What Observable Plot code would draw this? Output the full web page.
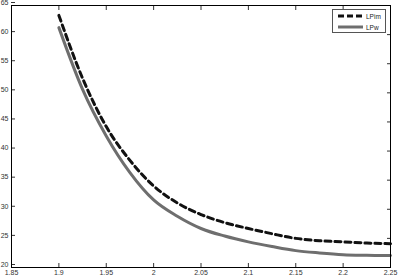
<!DOCTYPE html>
<html>
<head>
<meta charset="utf-8">
<script src="https://cdn.jsdelivr.net/npm/d3@7"></script>
<script src="https://cdn.jsdelivr.net/npm/@observablehq/plot@0.6"></script>
<style>
  html, body { margin: 0; padding: 0; background: #fff; }
  #wrap { position: relative; width: 399px; height: 278px; overflow: hidden; }
  #legend { position: absolute; left: 332px; top: 9px; width: 54px; height: 24px; border: 1px solid #555; background: #fff; font: 6.5px "Liberation Sans", Arial, sans-serif; color: #222; box-sizing: border-box; }
  #legend .row { position: absolute; left: 5px; height: 8px; display: flex; align-items: center; }
  #legend svg { display: block; margin-right: 3px; }
</style>
</head>
<body>
<div id="wrap"></div>
<script>
const xs = [1.9, 1.925, 1.95, 1.975, 2.0, 2.025, 2.05, 2.075, 2.1, 2.125, 2.15, 2.175, 2.2, 2.225, 2.25];
const lpIm = [63.3, 52.5, 44.2, 38.4, 34.0, 31.1, 29.1, 27.7, 26.7, 25.8, 25.0, 24.6, 24.4, 24.2, 24.1];
const lpW  = [61.2, 50.6, 42.6, 36.3, 31.6, 28.8, 26.7, 25.4, 24.4, 23.6, 22.9, 22.5, 22.2, 22.1, 22.05];
const xTicks = [1.85, 1.9, 1.95, 2.0, 2.05, 2.1, 2.15, 2.2, 2.25];
const xTickLabels = ["1.85", "1.9", "1.95", "2", "2.05", "2.1", "2.15", "2.2", "2.25"];
const yTicks = [20, 25, 30, 35, 40, 45, 50, 55, 60, 65];
const seriesNames = ["LPim", "LPw"];

const rows = [];
xs.forEach((x, i) => {
  rows.push({x, y: lpIm[i], s: seriesNames[0]});
  rows.push({x, y: lpW[i], s: seriesNames[1]});
});

const chart = Plot.plot({
  width: 399,
  height: 278,
  marginLeft: 11,
  marginRight: 9,
  marginTop: 5,
  marginBottom: 11,
  style: {fontFamily: "'Liberation Sans', Arial, sans-serif", fontSize: "7px", color: "#333", background: "#fff", overflow: "visible"},
  x: {domain: [1.85, 2.25]},
  y: {domain: [20, 65]},
  marks: [
    Plot.axisX({anchor: "bottom", ticks: xTicks, tickSize: -4, tickPadding: 7, tickFormat: (d, i) => xTickLabels[i], label: null}),
    Plot.axisX({anchor: "top", ticks: xTicks, tickSize: -4, tickFormat: () => "", label: null}),
    Plot.axisY({anchor: "left", ticks: yTicks, tickSize: -4, tickPadding: 7, dy: -3, label: null}),
    Plot.axisY({anchor: "right", ticks: yTicks, tickSize: -4, tickFormat: () => "", label: null}),
    Plot.line(rows.filter(d => d.s === "LPw"), {x: "x", y: "y", stroke: "#6e6e6e", strokeWidth: 3, curve: "monotone-x"}),
    Plot.line(rows.filter(d => d.s === "LPim"), {x: "x", y: "y", stroke: "#111", strokeWidth: 3, strokeDasharray: "6,4", curve: "monotone-x", className: "dashed-line"}),
    Plot.frame({stroke: "#000", strokeWidth: 1})
  ]
});

d3.select(chart).selectAll(".dashed-line path").attr("stroke-dasharray", "6,4");

const wrap = document.getElementById("wrap");
wrap.appendChild(chart);

const legend = document.createElement("div");
legend.id = "legend";
legend.innerHTML = `
  <div class="row" style="top:2px"><svg width="25" height="4"><line x1="0" y1="2" x2="25" y2="2" stroke="#111" stroke-width="3" stroke-dasharray="6,3"/></svg><span>${seriesNames[0]}</span></div>
  <div class="row" style="top:13px"><svg width="25" height="4"><line x1="0" y1="2" x2="25" y2="2" stroke="#6e6e6e" stroke-width="3"/></svg><span>${seriesNames[1]}</span></div>`;
wrap.appendChild(legend);
</script>
</body>
</html>
